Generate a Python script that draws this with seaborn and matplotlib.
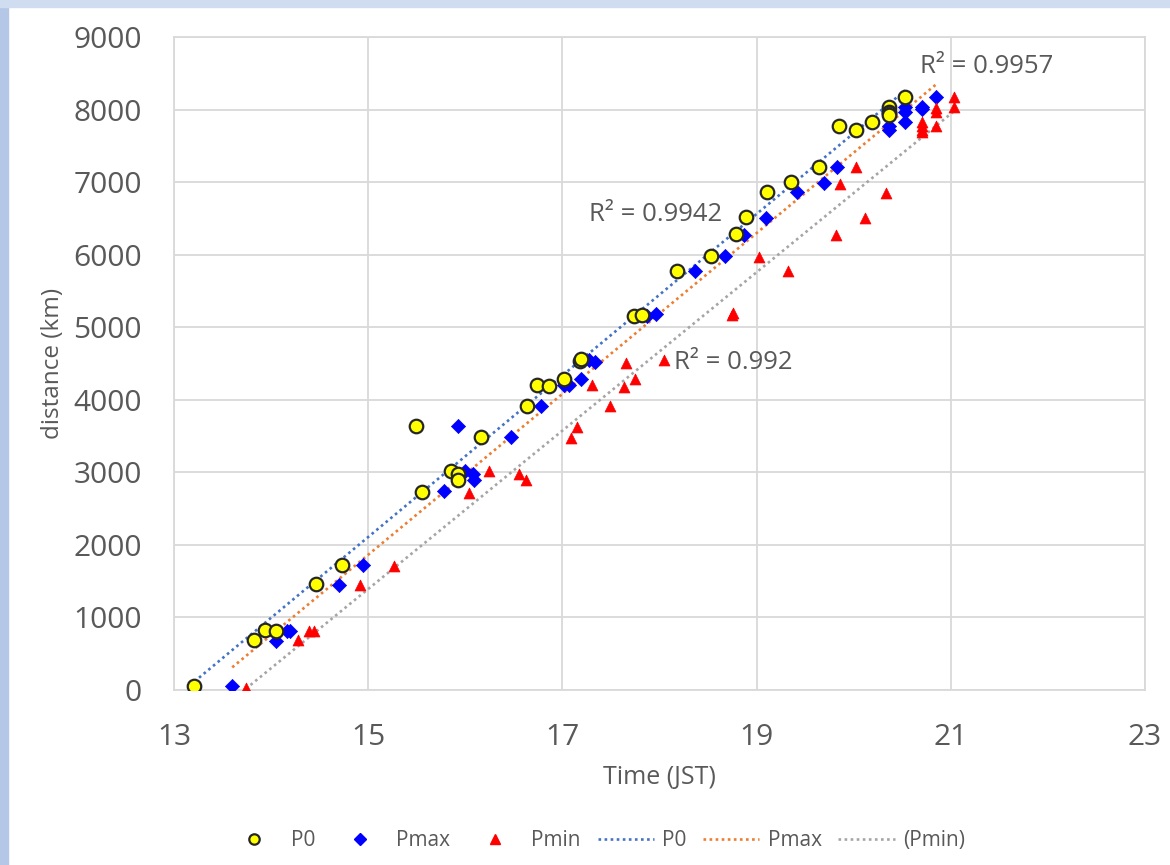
import matplotlib
matplotlib.use("Agg")
import matplotlib.pyplot as plt
from matplotlib.patches import Rectangle
from matplotlib.lines import Line2D
import seaborn as sns

# Datos: tiempo (JST) y distancia (km)
p0_time = [13.21, 13.82, 13.94, 14.05, 14.46, 14.73, 15.49, 15.55, 15.85, 15.92,
           15.92, 16.16, 16.64, 16.74, 16.86, 17.02, 17.18, 17.19, 17.74, 17.82,
           18.18, 18.53, 18.79, 18.89, 19.11, 19.35, 19.64, 19.85, 20.02, 20.19,
           20.36, 20.36, 20.36, 20.36, 20.53]
p0_dist = [55, 690, 830, 810, 1460, 1720, 3640, 2730, 3020, 2975,
           2900, 3490, 3915, 4200, 4190, 4290, 4540, 4560, 5150, 5170,
           5770, 5975, 6280, 6515, 6870, 7000, 7210, 7770, 7720, 7830,
           8030, 7970, 7950, 7920, 8170]

pmax_time = [13.60, 14.05, 14.16, 14.20, 14.70, 14.95, 15.78, 15.92, 16.00, 16.08,
             16.09, 16.47, 16.78, 17.02, 17.07, 17.19, 17.27, 17.34, 17.87, 17.96,
             18.37, 18.67, 18.87, 19.10, 19.42, 19.69, 19.83, 20.36, 20.36, 20.53,
             20.53, 20.53, 20.70, 20.70, 20.85]
pmax_dist = [55, 680, 815, 810, 1445, 1720, 2740, 3640, 3020, 2975,
             2900, 3490, 3915, 4200, 4210, 4285, 4545, 4520, 5150, 5180,
             5770, 5980, 6275, 6505, 6870, 6990, 7210, 7720, 7780, 8030,
             7960, 7830, 8010, 8040, 8170]

pmin_time = [13.74, 14.28, 14.39, 14.44, 14.92, 15.27, 16.04, 16.24, 16.55, 16.63,
             17.09, 17.15, 17.30, 17.49, 17.63, 17.66, 17.75, 18.05, 18.75, 18.76,
             19.02, 19.32, 19.82, 19.86, 20.02, 20.12, 20.33, 20.70, 20.70, 20.70,
             20.70, 20.85, 20.85, 20.85, 21.03, 21.03]
pmin_dist = [30, 690, 815, 810, 1445, 1710, 2720, 3015, 2975, 2900,
             3480, 3630, 4200, 3915, 4180, 4510, 4280, 4545, 5165, 5190,
             5970, 5770, 6275, 6980, 7210, 6505, 6855, 7830, 7780, 7720,
             7690, 8015, 7960, 7780, 8170, 8030]

r2_labels = ["R² = 0.9957", "R² = 0.9942", "R² = 0.992"]
r2_pos = [(21.37, 8590), (17.96, 6560), (18.76, 4520)]

x_ticks = [13, 15, 17, 19, 21, 23]
y_ticks = list(range(0, 9001, 1000))

sns.set_theme(style="whitegrid")
plt.rcParams['font.family'] = ['Open Sans', 'DejaVu Sans']

gris = "#595959"
fig = plt.figure(figsize=(11.7, 8.65), dpi=100)
fig.patch.set_facecolor("white")
# franjas azules del borde (captura de Excel)
fig.patches.append(Rectangle((0, 0), 8 / 1170, 1, transform=fig.transFigure,
                             color="#b4c7e7", zorder=0))
fig.patches.append(Rectangle((0, 1 - 7 / 865), 1, 7 / 865, transform=fig.transFigure,
                             color="#d0dcf0", zorder=0))

ax = fig.add_axes([0.1487, 0.2023, 0.8299, 0.7549])

dots = (0, (1, 1.3))
series = [
    (p0_time, p0_dist, "#4472C4", "P0"),
    (pmax_time, pmax_dist, "#ED7D31", "Pmax"),
    (pmin_time, pmin_dist, "#A5A5A5", "(Pmin)"),
]
for tx, dy, col, lab in series:
    sns.regplot(x=tx, y=dy, ax=ax, scatter=False, ci=None, truncate=True,
                line_kws=dict(color=col, lw=1.9, ls=dots, zorder=2))

sns.scatterplot(x=p0_time, y=p0_dist, ax=ax, marker="o", s=95, color="#FFFF00",
                edgecolor="#262626", linewidth=1.6, zorder=4, legend=False)
sns.scatterplot(x=pmax_time, y=pmax_dist, ax=ax, marker="D", s=52, color="#0000FF",
                edgecolor="#0000FF", linewidth=0.5, zorder=3, legend=False)
sns.scatterplot(x=pmin_time, y=pmin_dist, ax=ax, marker="^", s=62, color="#FF0000",
                edgecolor="#FF0000", linewidth=0.5, zorder=3, legend=False)

for txt, (tx, ty) in zip(r2_labels, r2_pos):
    ax.text(tx, ty, txt, ha="center", va="center", fontsize=18.5, color=gris, zorder=5)

ax.set_xlim(13, 23)
ax.set_ylim(0, 9000)
ax.set_xticks(x_ticks)
ax.set_yticks(y_ticks)
ax.tick_params(axis="both", length=0, labelsize=21.5, labelcolor=gris)
ax.tick_params(axis="x", pad=24)
ax.tick_params(axis="y", pad=23)
ax.set_xlabel("Time (JST)", fontsize=18, color=gris, labelpad=9)
ax.set_ylabel("distance (km)", fontsize=17.5, color=gris, labelpad=6)
ax.grid(True, color="#d9d9d9", lw=1.3)
for sp in ax.spines.values():
    sp.set_color("#d9d9d9")
    sp.set_linewidth(1.3)

# leyenda inferior
h_mark = [
    Line2D([], [], ls="none", marker="o", ms=7.5, mfc="#FFFF00", mec="#262626", mew=1.6),
    Line2D([], [], ls="none", marker="D", ms=6.5, mfc="#0000FF", mec="#0000FF"),
    Line2D([], [], ls="none", marker="^", ms=7.5, mfc="#FF0000", mec="#FF0000"),
]
h_line = [Line2D([], [], color=col, lw=1.9, ls=dots) for _, _, col, _ in series]
fig.legend(h_mark + h_line,
           ["P0", "Pmax", "Pmin"] + [lab for *_, lab in series],
           loc="center", bbox_to_anchor=(0.509, 0.028), ncol=6, frameon=False,
           fontsize=15, labelcolor=gris, handlelength=2.7, handletextpad=0.4,
           columnspacing=0.8)

fig.savefig("out.png", dpi=100, facecolor=fig.get_facecolor())
